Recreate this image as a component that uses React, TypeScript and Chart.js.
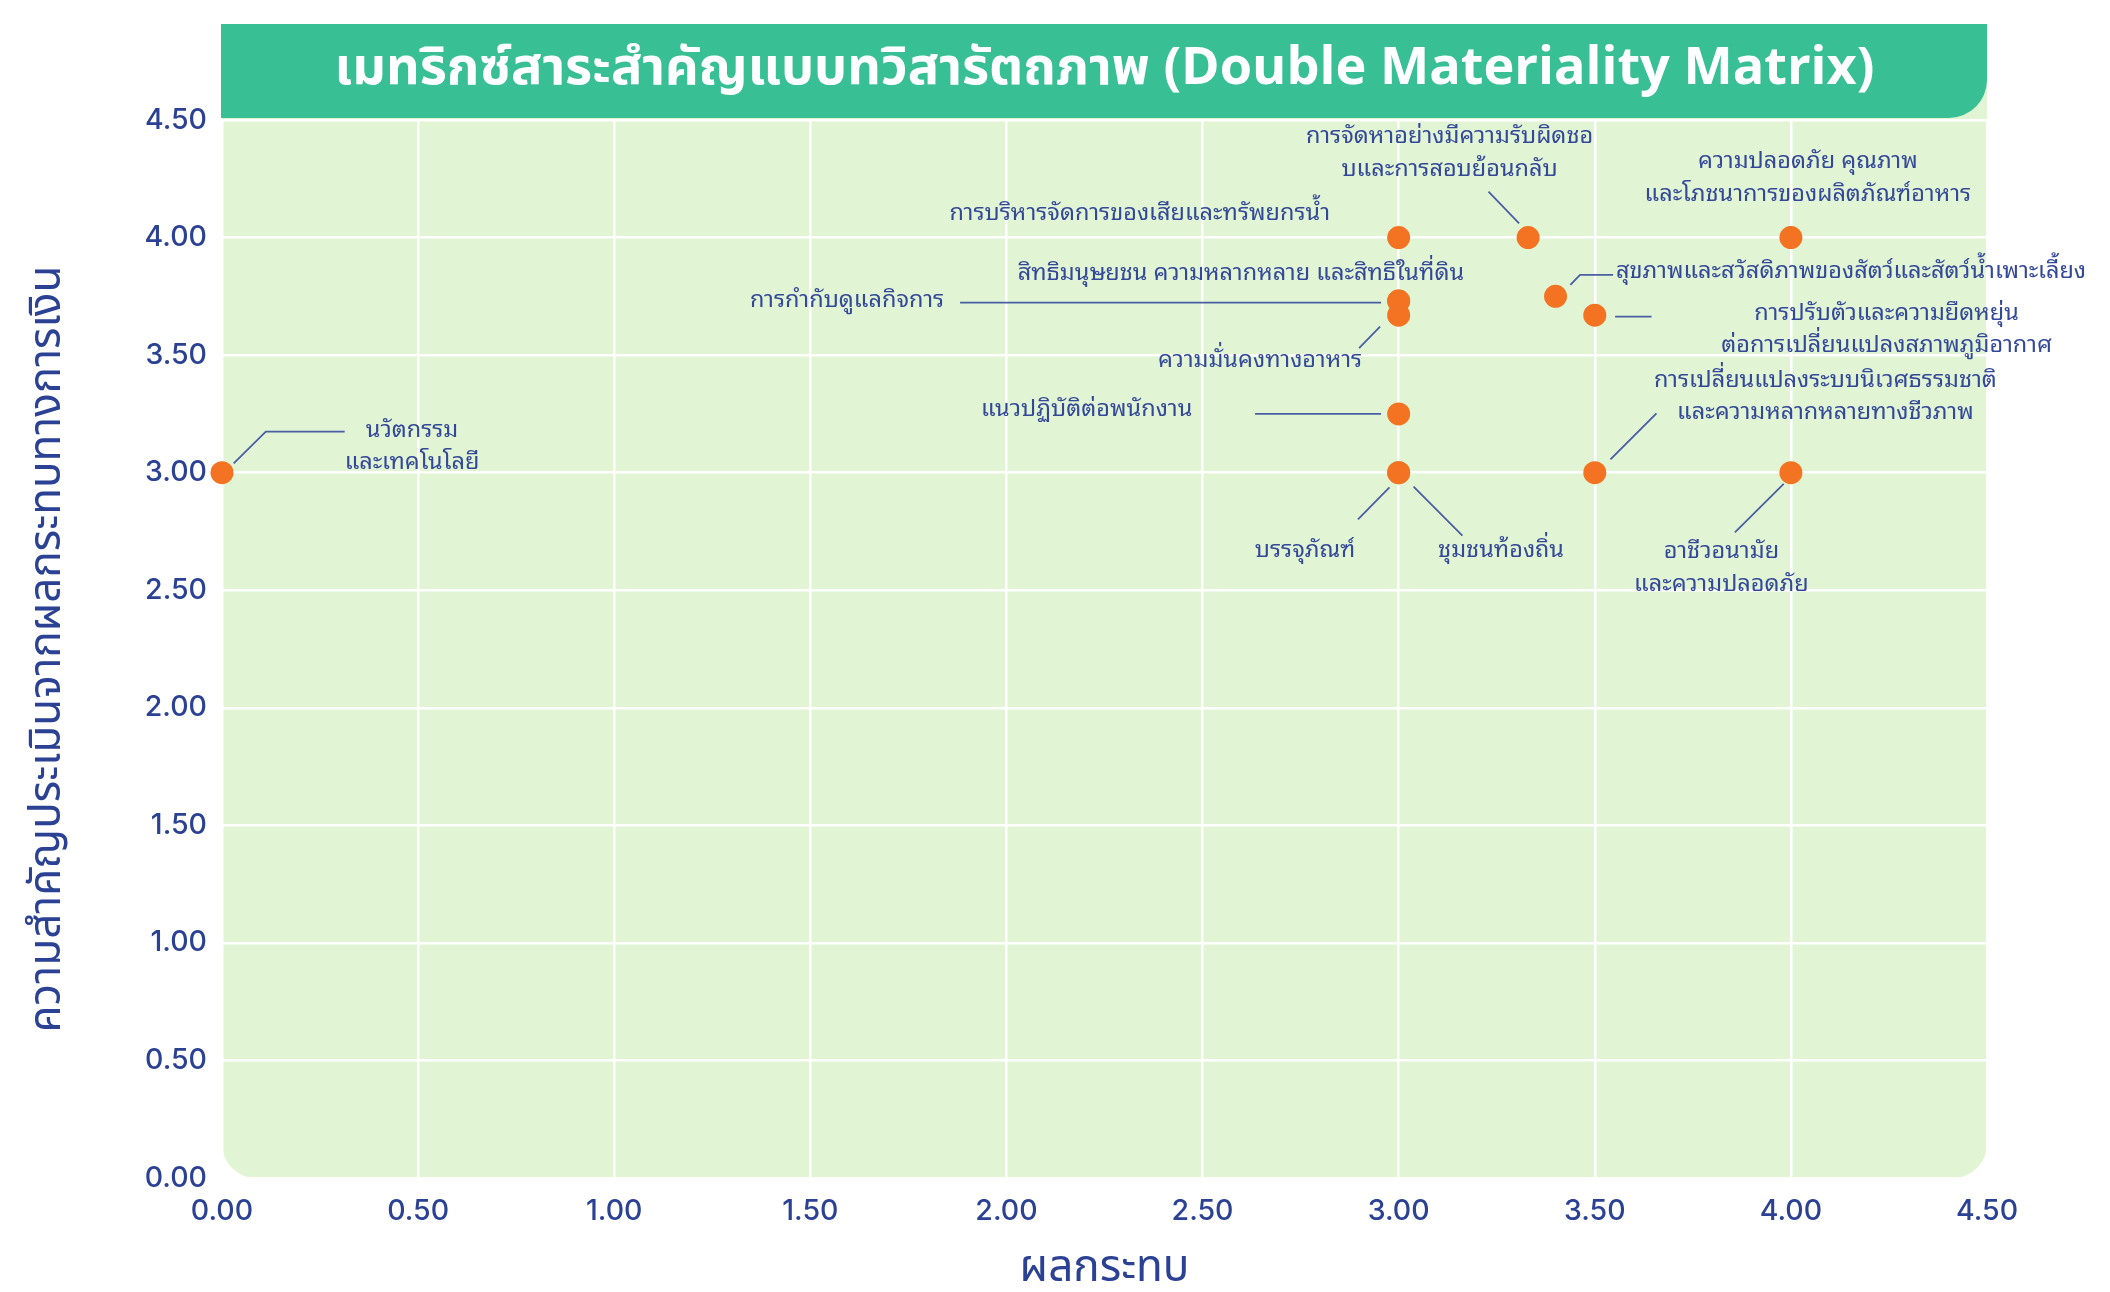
import React, { useEffect, useRef } from "react";
import { Chart, registerables } from "chart.js";

Chart.register(...registerables);

// ---------- data ----------
const chartTitle = "เมทริกซ์สาระสำคัญแบบทวิสารัตถภาพ (Double Materiality Matrix)";
const xAxisTitle = "ผลกระทบ";
const yAxisTitle = "ความสำคัญประเมินจากผลกระทบทางการเงิน";

const topics = [
  "นวัตกรรม\nและเทคโนโลยี",
  "การบริหารจัดการของเสียและทรัพยกรน้ำ",
  "การจัดหาอย่างมีความรับผิดชอ\nบและการสอบย้อนกลับ",
  "ความปลอดภัย คุณภาพ\nและโภชนาการของผลิตภัณฑ์อาหาร",
  "สิทธิมนุษยชน ความหลากหลาย และสิทธิในที่ดิน",
  "การกำกับดูแลกิจการ",
  "ความมั่นคงทางอาหาร",
  "แนวปฏิบัติต่อพนักงาน",
  "บรรจุภัณฑ์",
  "ชุมชนท้องถิ่น",
  "สุขภาพและสวัสดิภาพของสัตว์และสัตว์น้ำเพาะเลี้ยง",
  "การปรับตัวและความยืดหยุ่น\nต่อการเปลี่ยนแปลงสภาพภูมิอากาศ",
  "การเปลี่ยนแปลงระบบนิเวศธรรมชาติ\nและความหลากหลายทางชีวภาพ",
  "อาชีวอนามัย\nและความปลอดภัย",
];

const impactScores = [0, 3, 3.33, 4, 3, 3, 3, 3, 3, 3, 3.4, 3.5, 3.5, 4];
const financialScores = [3, 4, 4, 4, 3.73, 3.73, 3.67, 3.25, 3, 3, 3.75, 3.67, 3, 3];

const tickLabels = ["0.00", "0.50", "1.00", "1.50", "2.00", "2.50", "3.00", "3.50", "4.00", "4.50"];

// ---------- label layout (pixel offsets relative to each point) ----------
type LabelLayout = {
  dx: number;
  dy: number;
  align: CanvasTextAlign;
  leader: [number, number][];
};

const labelLayout: LabelLayout[] = [
  { dx: 190, dy: -42.7, align: "center", leader: [[11.7, -9.4], [43.8, -41], [122.7, -41]] },
  { dx: -68.6, dy: -24.6, align: "right", leader: [] },
  { dx: -78.5, dy: -101, align: "center", leader: [[-39.6, -46], [-9, -14.3]] },
  { dx: 17, dy: -76, align: "center", leader: [] },
  { dx: -157.8, dy: -27.7, align: "center", leader: [] },
  { dx: -551.6, dy: -1, align: "center", leader: [[-438.6, 1.5], [-17.6, 1.5]] },
  { dx: -138.6, dy: 44.8, align: "center", leader: [[-39.6, 33.1], [-18.6, 11.5]] },
  { dx: -312, dy: -4, align: "center", leader: [[-143.6, 0], [-17.6, 0]] },
  { dx: -93.6, dy: 77.3, align: "center", leader: [[-40.7, 46.6], [-9.2, 14.6]] },
  { dx: 102.4, dy: 77.3, align: "center", leader: [[14.9, 14], [63.7, 63]] },
  { dx: 60.5, dy: -24.7, align: "left", leader: [[14.8, -11.4], [24.5, -21.4], [57.5, -21.4]] },
  { dx: 291.8, dy: -1.9, align: "center", leader: [[20.3, 1.5], [56.8, 1.5]] },
  { dx: 230.6, dy: -92.7, align: "center", leader: [[15.7, -13.4], [61.7, -59.4]] },
  { dx: -69.5, dy: 79, align: "center", leader: [[-7.2, 11.3], [-56, 59.6]] },
];

// ---------- styles ----------
const W = 2110;
const H = 1292;
const BANNER_TOP = 24;
const AXIS_BLUE = "#2B4193";
const LABEL_BLUE = "#34489A";
const LEADER_BLUE = "#4A5EA3";
const PLOT_BG = "#E1F5D4";
const BANNER_GREEN = "#38BF94";
const DOT_ORANGE = "#F37322";
const THAI_FONT = "'Noto Sans Thai Looped', 'Noto Sans Thai', 'Noto Sans', sans-serif";
const THAI_TITLE_FONT = "'Noto Sans Thai', 'Noto Sans', sans-serif";
const NUM_FONT = "Inter, 'Noto Sans', sans-serif";

const decorPlugin = {
  id: "decor",
  beforeDraw(chart: any) {
    const { ctx, chartArea: a } = chart;
    ctx.save();
    ctx.fillStyle = PLOT_BG;
    ctx.beginPath();
    (ctx as any).roundRect(a.left, BANNER_TOP, a.right - a.left, a.bottom - BANNER_TOP, [0, 0, 34, 34]);
    ctx.fill();
    ctx.restore();
  },
  afterDatasetsDraw(chart: any) {
    const { ctx } = chart;
    const meta = chart.getDatasetMeta(0);
    ctx.save();
    // leader lines
    ctx.strokeStyle = LEADER_BLUE;
    ctx.lineWidth = 1.8;
    meta.data.forEach((pt: any, i: number) => {
      const lay = labelLayout[i];
      if (!lay || lay.leader.length < 2) return;
      ctx.beginPath();
      lay.leader.forEach(([lx, ly], k) => {
        if (k === 0) ctx.moveTo(pt.x + lx, pt.y + ly);
        else ctx.lineTo(pt.x + lx, pt.y + ly);
      });
      ctx.stroke();
    });
    // labels
    ctx.fillStyle = LABEL_BLUE;
    ctx.font = `23.5px ${THAI_FONT}`;
    ctx.textBaseline = "middle";
    meta.data.forEach((pt: any, i: number) => {
      const lay = labelLayout[i];
      if (!lay) return;
      ctx.textAlign = lay.align;
      topics[i].split("\n").forEach((line, k) => {
        ctx.fillText(line, pt.x + lay.dx, pt.y + lay.dy + k * 32.5);
      });
    });
    ctx.restore();
  },
  afterDraw(chart: any) {
    const { ctx, chartArea: a } = chart;
    ctx.save();
    ctx.fillStyle = BANNER_GREEN;
    ctx.beginPath();
    (ctx as any).roundRect(a.left - 1, BANNER_TOP, a.right - a.left + 1, a.top - BANNER_TOP - 2, [0, 0, 38, 0]);
    ctx.fill();
    ctx.fillStyle = "#FFFFFF";
    ctx.textAlign = "center";
    ctx.textBaseline = "middle";
    let size = 50;
    ctx.font = `bold ${size}px ${THAI_TITLE_FONT}`;
    const measured = ctx.measureText(chartTitle).width;
    const target = 1540;
    size = Math.min(56, (size * target) / measured);
    ctx.font = `bold ${size}px ${THAI_TITLE_FONT}`;
    ctx.fillText(chartTitle, (a.left + a.right) / 2, (BANNER_TOP + a.top) / 2 + 1);
    ctx.restore();
  },
};

export default function App() {
  const ref = useRef<HTMLCanvasElement | null>(null);

  useEffect(() => {
    if (!ref.current) return;
    const chart = new Chart(ref.current, {
      type: "scatter",
      data: {
        datasets: [
          {
            label: "topics",
            data: impactScores.map((x, i) => ({ x, y: financialScores[i] })),
            pointRadius: 11.5,
            pointHoverRadius: 11.5,
            pointBackgroundColor: DOT_ORANGE,
            pointBorderWidth: 0,
            clip: false as any,
          },
        ],
      },
      options: {
        animation: false,
        responsive: false,
        maintainAspectRatio: false,
        events: [],
        layout: { padding: { top: 120, right: 123, left: 0, bottom: 0 } },
        plugins: {
          legend: { display: false },
          tooltip: { enabled: false },
          title: { display: false },
        },
        scales: {
          x: {
            type: "linear",
            min: 0,
            max: 4.5,
            afterFit: (s: any) => {
              s.height = 114;
            },
            ticks: {
              stepSize: 0.5,
              autoSkip: false,
              color: AXIS_BLUE,
              padding: 16,
              font: { family: NUM_FONT, size: 28.5, weight: "500" as any },
              callback: (_v: any, idx: number) => tickLabels[idx],
            },
            grid: { color: "#FFFFFF", lineWidth: 2.5, drawTicks: false },
            border: { display: false },
            title: {
              display: true,
              text: xAxisTitle,
              color: AXIS_BLUE,
              padding: 0,
              font: { family: THAI_TITLE_FONT, size: 44, lineHeight: 0.9 },
            },
          },
          y: {
            type: "linear",
            min: 0,
            max: 4.5,
            afterFit: (s: any) => {
              s.width = 222;
            },
            ticks: {
              stepSize: 0.5,
              autoSkip: false,
              color: AXIS_BLUE,
              padding: 15,
              font: { family: NUM_FONT, size: 28.5, weight: "500" as any },
              callback: (_v: any, idx: number) => tickLabels[idx],
            },
            grid: { color: "#FFFFFF", lineWidth: 2.5, drawTicks: false },
            border: { display: false },
            title: {
              display: true,
              text: yAxisTitle,
              color: AXIS_BLUE,
              padding: { top: 25, bottom: 0 },
              font: { family: THAI_TITLE_FONT, size: 44, lineHeight: 1.2 },
            },
          },
        },
      },
      plugins: [decorPlugin],
    });
    return () => chart.destroy();
  }, []);

  return (
    <div style={{ position: "fixed", left: 0, top: 0, width: W, height: H, background: "#FFFFFF" }}>
      <canvas ref={ref} width={W} height={H} style={{ display: "block", width: W, height: H }} />
    </div>
  );
}
